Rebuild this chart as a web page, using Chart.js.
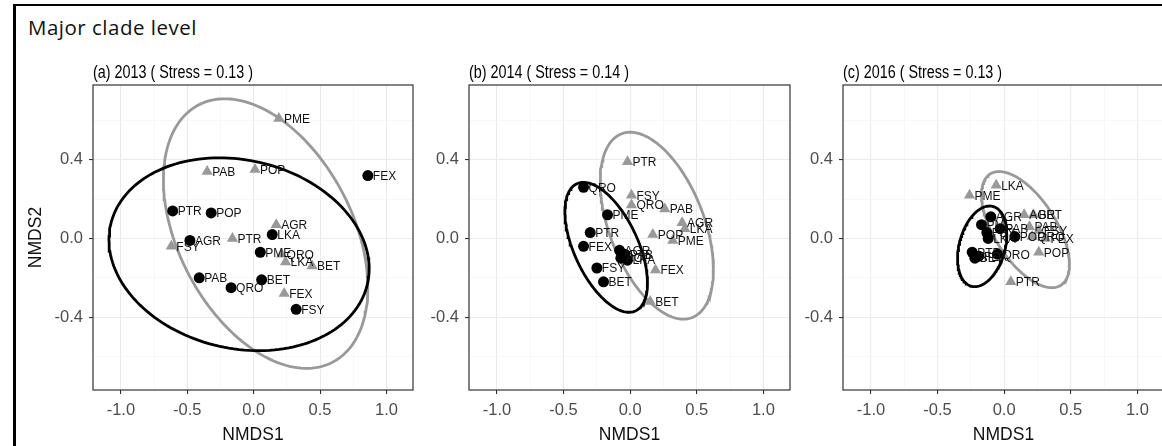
<!DOCTYPE html>
<html>
<head>
<meta charset="utf-8">
<script src="https://cdn.jsdelivr.net/npm/chart.js@4.4.0/dist/chart.umd.min.js"></script>
<style>
  body { margin: 0; background: #fff; width: 1162px; height: 446px; overflow: hidden; position: relative; }
  #frame { position: absolute; left: 13px; top: 4px; width: 1170px; height: 470px; border-left: 3px solid #000; border-top: 2px solid #000; }
  #heading { position: absolute; left: 28px; top: 13px; font-family: "Open Sans", Lato, sans-serif; font-size: 20.5px; letter-spacing: 0.5px; color: #111; }
  .panel { position: absolute; top: 50px; height: 396px; }
</style>
</head>
<body>
<div id="frame"></div>
<div id="heading">Major clade level</div>
<div class="panel" style="left:0px;width:420px"><canvas id="c2013"></canvas></div>
<div class="panel" style="left:420px;width:380px"><canvas id="c2014"></canvas></div>
<div class="panel" style="left:800px;width:370px"><canvas id="c2016"></canvas></div>
<script>
// tick labels and panel titles
const xTickLabels = ['-1.0', '-0.5', '0.0', '0.5', '1.0'];
const yTickLabels = ['-0.4', '0.0', '0.4'];
const panelTitles = ['(a) 2013 ( Stress = 0.13 )', '(b) 2014 ( Stress = 0.14 )', '(c) 2016 ( Stress = 0.13 )'];

// 2013 scores
const codes2013Grey = ['PME', 'PAB', 'POP', 'AGR', 'PTR', 'FSY', 'QRO', 'LKA', 'BET', 'FEX'];
const x2013Grey = [0.19, -0.35, 0.01, 0.17, -0.16, -0.62, 0.21, 0.24, 0.44, 0.23];
const y2013Grey = [0.61, 0.34, 0.35, 0.07, 0.00, -0.04, -0.08, -0.12, -0.14, -0.28];
const codes2013Black = ['FEX', 'PTR', 'POP', 'AGR', 'LKA', 'PME', 'PAB', 'QRO', 'BET', 'FSY'];
const x2013Black = [0.86, -0.61, -0.32, -0.48, 0.14, 0.05, -0.41, -0.17, 0.06, 0.32];
const y2013Black = [0.32, 0.14, 0.13, -0.01, 0.02, -0.07, -0.20, -0.25, -0.21, -0.36];

// 2014
const codes2014Grey = ['PTR', 'FSY', 'QRO', 'PAB', 'AGR', 'LKA', 'POP', 'PME', 'FEX', 'BET'];
const x2014Grey = [-0.02, 0.01, 0.01, 0.26, 0.39, 0.41, 0.17, 0.32, 0.19, 0.15];
const y2014Grey = [0.39, 0.22, 0.17, 0.15, 0.08, 0.05, 0.02, -0.01, -0.16, -0.32];
const codes2014Black = ['QRO', 'PME', 'PTR', 'FEX', 'AGR', 'PAB', 'POP', 'LKA', 'FSY', 'BET'];
const x2014Black = [-0.35, -0.17, -0.30, -0.35, -0.08, -0.04, -0.07, -0.02, -0.25, -0.20];
const y2014Black = [0.26, 0.12, 0.03, -0.04, -0.06, -0.08, -0.10, -0.11, -0.15, -0.22];

// 2016
const codes2016Grey = ['PME', 'LKA', 'AGR', 'BET', 'PAB', 'FSY', 'QRO', 'FEX', 'POP', 'PTR'];
const x2016Grey = [-0.26, -0.06, 0.15, 0.22, 0.19, 0.26, 0.21, 0.31, 0.26, 0.05];
const y2016Grey = [0.22, 0.27, 0.12, 0.12, 0.06, 0.04, 0.01, 0.00, -0.07, -0.22];
const codes2016Black = ['AGR', 'PME', 'PAB', 'FSY', 'LKA', 'POP', 'QRO', 'PTR', 'FEX', 'BET'];
const x2016Black = [-0.10, -0.17, -0.03, -0.13, -0.12, 0.08, -0.05, -0.24, -0.19, -0.22];
const y2016Black = [0.11, 0.07, 0.05, 0.03, 0.00, 0.01, -0.08, -0.07, -0.09, -0.10];

// group ellipses: centre x, centre y, half width, half height, tilt (cos of phase)
const ell2013Grey = [0.09, 0.025, 0.77, 0.685, -0.40];
const ell2013Black = [-0.11, -0.08, 0.98, 0.49, -0.15];
const ell2014Grey = [0.20, 0.065, 0.425, 0.475, -0.47];
const ell2014Black = [-0.18, -0.045, 0.31, 0.33, -0.55];
const ell2016Grey = [0.16, 0.045, 0.33, 0.295, -0.60];
const ell2016Black = [-0.165, -0.04, 0.185, 0.205, 0.30];

const GREY = '#999999';
const BLACK = '#000000';
const txtFont = '"Liberation Sans", Arial, sans-serif';

function toPoints(xs, ys) {
  return xs.map((x, i) => ({ x: x, y: ys[i] }));
}

function ellipse(p) {
  const phi = Math.acos(p[4]);
  const pts = [];
  for (let i = 0; i <= 160; i++) {
    const t = i / 160 * 2 * Math.PI;
    pts.push({ x: p[0] + p[2] * Math.cos(t), y: p[1] + p[3] * Math.cos(t + phi) });
  }
  return pts;
}

function isMajor(v, step) {
  return Math.abs(v / step - Math.round(v / step)) < 1e-6;
}

// species codes next to each point
const pointLabels = {
  id: 'pointLabels',
  afterDatasetsDraw(chart) {
    const ctx = chart.ctx;
    ctx.save();
    ctx.font = '12px ' + txtFont;
    ctx.fillStyle = '#111';
    ctx.textBaseline = 'middle';
    chart.data.datasets.forEach((ds, i) => {
      if (!ds.codes) return;
      chart.getDatasetMeta(i).data.forEach((el, j) => {
        ctx.fillText(ds.codes[j], el.x + 5, el.y + 1);
      });
    });
    ctx.restore();
  }
};

// panel border and title, ggplot style (title text is a bit condensed in the original)
const panelFrame = {
  id: 'panelFrame',
  afterDraw(chart, args, opts) {
    const a = chart.chartArea;
    const ctx = chart.ctx;
    ctx.save();
    ctx.strokeStyle = '#333333';
    ctx.lineWidth = 1.2;
    ctx.strokeRect(a.left, a.top, a.right - a.left, a.bottom - a.top);
    ctx.translate(a.left, a.top - 7);
    ctx.scale(0.82, 1);
    ctx.font = '17.5px ' + txtFont;
    ctx.fillStyle = '#000';
    ctx.textBaseline = 'alphabetic';
    ctx.fillText(opts.text, 0, 0);
    ctx.restore();
  }
};

function makePanel(id, title, yAxisWidth, rightPad, showYTitle, grey, black, ellGrey, ellBlack) {
  new Chart(document.getElementById(id), {
    type: 'scatter',
    data: {
      datasets: [
        { data: toPoints(black[1], black[2]), codes: black[0], pointStyle: 'circle', pointRadius: 5.5,
          backgroundColor: BLACK, borderColor: BLACK, borderWidth: 0, order: 0 },
        { data: toPoints(grey[1], grey[2]), codes: grey[0], pointStyle: 'triangle', pointRadius: 6.5,
          backgroundColor: GREY, borderColor: GREY, borderWidth: 0, order: 1 },
        { data: ellipse(ellBlack), showLine: true, pointRadius: 0, borderColor: BLACK, borderWidth: 2.8,
          fill: false, tension: 0, order: 2 },
        { data: ellipse(ellGrey), showLine: true, pointRadius: 0, borderColor: GREY, borderWidth: 2.8,
          fill: false, tension: 0, order: 3 }
      ]
    },
    options: {
      responsive: true,
      maintainAspectRatio: false,
      animation: false,
      events: [],
      layout: { autoPadding: false, padding: { top: 35, right: rightPad, left: 0, bottom: 0 } },
      plugins: { legend: { display: false }, tooltip: { enabled: false }, panelFrame: { text: title } },
      scales: {
        x: {
          min: -1.21, max: 1.2,
          afterFit: s => { s.height = 56; },
          border: { display: false },
          grid: {
            color: c => isMajor(c.tick.value, 0.5) ? '#EBEBEB' : '#F5F5F5',
            lineWidth: c => isMajor(c.tick.value, 0.5) ? 1.1 : 0.7,
            tickColor: c => isMajor(c.tick.value, 0.5) ? '#333333' : 'rgba(0,0,0,0)',
            tickLength: 4, tickWidth: 1.1
          },
          ticks: {
            stepSize: 0.25, includeBounds: false, autoSkip: false, maxRotation: 0, padding: 7,
            color: '#4D4D4D', font: { family: txtFont, size: 16.5 },
            callback: v => { const s = v.toFixed(1); return isMajor(v, 0.5) && xTickLabels.includes(s) ? s : ''; }
          },
          title: { display: true, text: 'NMDS1', color: '#111', font: { family: txtFont, size: 17.5 }, padding: { top: 0, bottom: 0 } }
        },
        y: {
          min: -0.77, max: 0.78,
          afterFit: s => { s.width = yAxisWidth; },
          border: { display: false },
          grid: {
            color: c => isMajor(c.tick.value, 0.4) ? '#EBEBEB' : '#F5F5F5',
            lineWidth: c => isMajor(c.tick.value, 0.4) ? 1.1 : 0.7,
            tickColor: c => isMajor(c.tick.value, 0.4) ? '#333333' : 'rgba(0,0,0,0)',
            tickLength: 4, tickWidth: 1.1
          },
          ticks: {
            stepSize: 0.2, includeBounds: false, autoSkip: false, padding: 6,
            color: '#4D4D4D', font: { family: txtFont, size: 16.5 },
            callback: v => { const s = v.toFixed(1); return isMajor(v, 0.4) && yTickLabels.includes(s) ? s : ''; }
          },
          title: { display: showYTitle, text: 'NMDS2', color: '#111', font: { family: txtFont, size: 17.5 }, padding: { top: 26, bottom: 0 } }
        }
      }
    },
    plugins: [pointLabels, panelFrame]
  });
}

makePanel('c2013', panelTitles[0], 93, 7, true,
  [codes2013Grey, x2013Grey, y2013Grey], [codes2013Black, x2013Black, y2013Black], ell2013Grey, ell2013Black);
makePanel('c2014', panelTitles[1], 49, 10, false,
  [codes2014Grey, x2014Grey, y2014Grey], [codes2014Black, x2014Black, y2014Black], ell2014Grey, ell2014Black);
makePanel('c2016', panelTitles[2], 43, 6, false,
  [codes2016Grey, x2016Grey, y2016Grey], [codes2016Black, x2016Black, y2016Black], ell2016Grey, ell2016Black);
</script>
</body>
</html>
